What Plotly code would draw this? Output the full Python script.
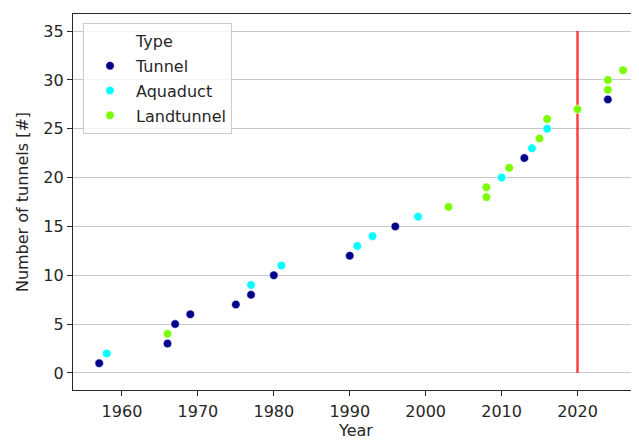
import plotly.graph_objects as go

# Data: (year, cumulative count) per tunnel type
tunnel_years = [1957, 1966, 1967, 1969, 1975, 1977, 1980, 1990, 1996, 2013, 2024]
tunnel_counts = [1, 3, 5, 6, 7, 8, 10, 12, 15, 22, 28]

aquaduct_years = [1958, 1977, 1981, 1991, 1993, 1999, 2010, 2014, 2016]
aquaduct_counts = [2, 9, 11, 13, 14, 16, 20, 23, 25]

landtunnel_years = [1966, 2003, 2008, 2008, 2011, 2015, 2016, 2020, 2024, 2024, 2026]
landtunnel_counts = [4, 17, 18, 19, 21, 24, 26, 27, 29, 30, 31]

vline_x = [2020, 2020]
vline_y = [0, 35]

FONT = "DejaVu Sans"
TXT = "#262626"
FS = 16

fig = go.Figure()

fig.add_trace(go.Scatter(x=vline_x, y=vline_y, mode="lines",
                         line=dict(color="rgba(255,0,0,0.75)", width=2.5),
                         showlegend=False, hoverinfo="skip"))

# invisible entry used as legend title (matplotlib/seaborn style)
fig.add_trace(go.Scatter(x=[None], y=[None], mode="markers", name="Type",
                         marker=dict(color="rgba(0,0,0,0)", size=9),
                         legendgroup="t0"))

series = [
    ("Tunnel", tunnel_years, tunnel_counts, "#00008b"),
    ("Aquaduct", aquaduct_years, aquaduct_counts, "#00ffff"),
    ("Landtunnel", landtunnel_years, landtunnel_counts, "#7cfc00"),
]
for i, (name, xs, ys, col) in enumerate(series):
    fig.add_trace(go.Scatter(x=xs, y=ys, mode="markers", name=name,
                             marker=dict(color=col, size=8.5,
                                         line=dict(color="white", width=0.6)),
                             legendgroup=f"g{i}"))

# page body has an 8px margin, so the figure is sized to fit the window
fig.update_layout(
    width=631, height=433,
    margin=dict(l=65, r=0, t=6, b=51, autoexpand=False),
    paper_bgcolor="white", plot_bgcolor="white",
    font=dict(family=FONT, size=FS, color=TXT),
    legend=dict(x=0.0177, y=0.976, xanchor="left", yanchor="top",
                bgcolor="rgba(255,255,255,0.8)", bordercolor="#cccccc",
                borderwidth=1, font=dict(size=FS, color=TXT),
                itemwidth=42, tracegroupgap=1),
    showlegend=True,
)
fig.update_xaxes(range=[1953.55, 2028.1], tickvals=[1960, 1970, 1980, 1990, 2000, 2010, 2020],
                 showgrid=False, zeroline=False, automargin=False,
                 showline=True, linecolor="#262626", linewidth=1.2, mirror=True,
                 ticks="outside", ticklen=5, tickcolor="#262626",
                 ticklabelstandoff=2,
                 title=dict(text="Year", font=dict(size=FS), standoff=4),
                 tickfont=dict(size=FS))
fig.update_yaxes(range=[-1.75, 36.75], tickvals=[0, 5, 10, 15, 20, 25, 30, 35],
                 showgrid=True, gridcolor="#c8c8c8", gridwidth=1, zeroline=False,
                 automargin=False,
                 showline=True, linecolor="#262626", linewidth=1.2,
                 ticks="outside", ticklen=5, tickcolor="#262626",
                 title=dict(text="Number of tunnels [#]", font=dict(size=FS), standoff=10),
                 tickfont=dict(size=FS))

fig.write_html("out.html")
